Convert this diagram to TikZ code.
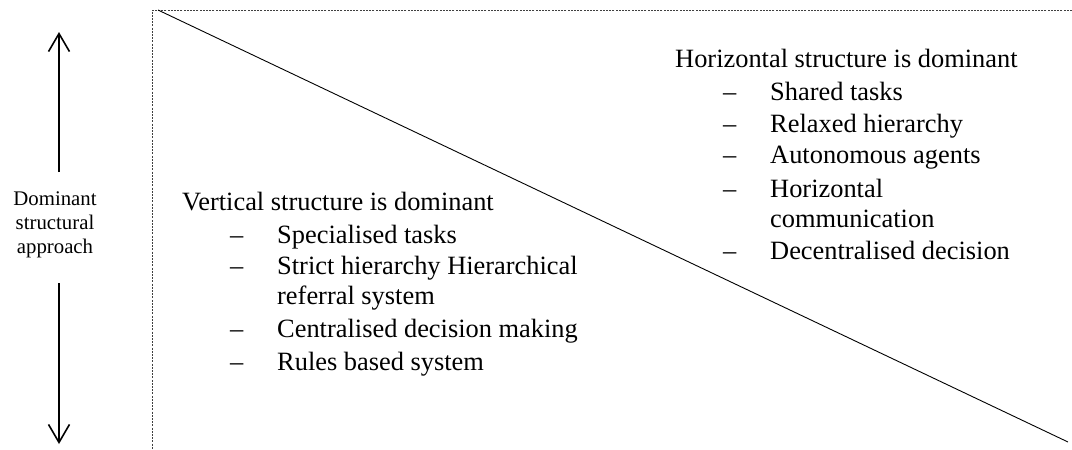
\documentclass[tikz,border=0pt]{standalone}
\usepackage{fontspec}
\setmainfont{Liberation Serif}
\usetikzlibrary{arrows.meta}
\begin{document}
\begin{tikzpicture}[x=1pt,y=-1pt,
  bodytext/.style={anchor=base west,inner sep=0pt,font=\fontsize{26.4}{30}\selectfont},
  captext/.style={anchor=base,inner sep=0pt,font=\fontsize{20.8}{24}\selectfont},
  frameline/.style={draw=black!75,line width=0.9pt,dash pattern=on 2pt off 1.2pt},
  bigarrow/.style={line width=1.6pt,-{Straight Barb[length=18pt,width=21pt,line width=1.6pt]}}]
\useasboundingbox (0,0) rectangle (1072,450);

% dotted frame: top and left edges
\coordinate (ftop) at (152,10);
\coordinate (fright) at (1072,10);
\coordinate (fbot) at (152,450);
\draw[frameline] (fright) -- (ftop) -- (fbot);

% diagonal divider
\coordinate (dA) at (158,10);
\coordinate (dB) at (1068,442);
\draw[line width=0.9pt] (dA) -- (dB);

% axis label with arrows above and below
\node[captext] (capA) at (55,205) {Dominant};
\node[captext] (capB) at (55,229) {structural};
\node[captext] (capC) at (55,253) {approach};
\coordinate (upS) at (59,172);
\coordinate (upE) at (59,32);
\coordinate (dnS) at (59,283);
\coordinate (dnE) at (59,444);
\draw[bigarrow] (upS) -- (upE);
\draw[bigarrow] (dnS) -- (dnE);

% vertical structure block
\node[bodytext] (vh) at (182,210) {Vertical structure is dominant};
\node[bodytext] (vd1) at (230,243) {–};
\node[bodytext] (vt1) at (277,243) {Specialised tasks};
\node[bodytext] (vd2) at (230,274) {–};
\node[bodytext] (vt2) at (277,274) {Strict hierarchy Hierarchical};
\node[bodytext] (vt2b) at (277,304) {referral system};
\node[bodytext] (vd3) at (230,337) {–};
\node[bodytext] (vt3) at (277,337) {Centralised decision making};
\node[bodytext] (vd4) at (230,370) {–};
\node[bodytext] (vt4) at (277,370) {Rules based system};

% horizontal structure block
\node[bodytext] (hh) at (675,67) {Horizontal structure is dominant};
\node[bodytext] (hd1) at (723,100) {–};
\node[bodytext] (ht1) at (770,100) {Shared tasks};
\node[bodytext] (hd2) at (723,132) {–};
\node[bodytext] (ht2) at (770,132) {Relaxed hierarchy};
\node[bodytext] (hd3) at (723,163) {–};
\node[bodytext] (ht3) at (770,163) {Autonomous agents};
\node[bodytext] (hd4) at (723,197) {–};
\node[bodytext] (ht4) at (770,197) {Horizontal};
\node[bodytext] (ht4b) at (770,227) {communication};
\node[bodytext] (hd5) at (723,259) {–};
\node[bodytext] (ht5) at (770,259) {Decentralised decision};
\end{tikzpicture}
\end{document}
